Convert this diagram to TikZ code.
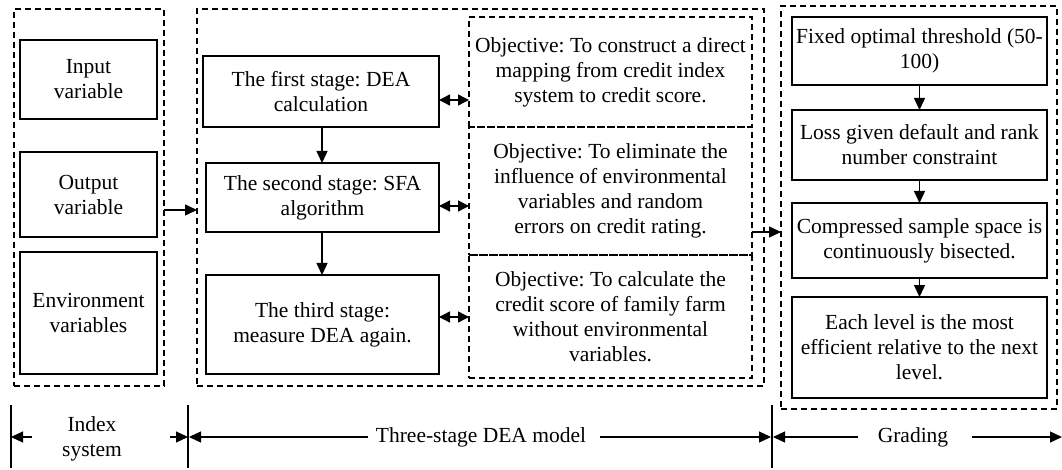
\documentclass[tikz,border=0pt]{standalone}
\usepackage{fontspec}
\setmainfont{Liberation Serif}
\usetikzlibrary{arrows.meta}
\frenchspacing
\begin{document}
\begin{tikzpicture}[x=1pt,y=-1pt,
  every node/.style={inner sep=0pt, outer sep=0pt, align=center, font=\fontsize{21.5}{25}\selectfont},
  solidbox/.style={draw, line width=1.6pt},
  dashbox/.style={draw, line width=1.3pt, dash pattern=on 6pt off 4pt},
  arr/.style={line width=1.4pt, -{Triangle[length=12pt,width=11pt]}},
  darr/.style={line width=1.4pt, {Triangle[length=11pt,width=11pt]}-{Triangle[length=11pt,width=11pt]}},
  dim/.style={line width=1.2pt, -{Triangle[length=12pt,width=11pt]}},
  sep/.style={line width=1.2pt}]
\useasboundingbox (0,0) rectangle (1062,470);
% left group
\node[dashbox, minimum width=150pt, minimum height=377pt] (left) at (89,197.5) {};
\node[solidbox, minimum width=137pt, minimum height=79pt] (in) at (88.5,79.5) {Input\\variable};
\node[solidbox, minimum width=137pt, minimum height=85pt] (out) at (88.5,194.5) {Output\\variable};
\node[solidbox, minimum width=137pt, minimum height=122pt] (env) at (88.5,313) {Environment\\variables};
% middle group
\node[dashbox, minimum width=567pt, minimum height=377pt] (mid) at (480.5,197.5) {};
\node[solidbox, minimum width=236pt, minimum height=71pt] (s1) at (321,91.5) {The first stage: DEA\\calculation};
\node[solidbox, minimum width=233pt, minimum height=69pt] (s2) at (322.5,197.5) {The second stage: SFA\\algorithm};
\node[solidbox, minimum width=233pt, minimum height=99pt] (s3) at (322.5,324.5) {The third stage:\\measure DEA again.};
\node[dashbox, minimum width=283pt, minimum height=110pt] (o1) at (610.5,72) {Objective: To construct a direct\\mapping from credit index\\system to credit score.};
\node[dashbox, minimum width=283pt, minimum height=128pt] (o2) at (610.5,191) {Objective: To eliminate the\\influence of environmental\\variables and random\\errors on credit rating.};
\node[dashbox, minimum width=283pt, minimum height=123pt] (o3) at (610.5,316.5) {Objective: To calculate the\\credit score of family farm\\without environmental\\variables.};
% right group
\node[dashbox, minimum width=276pt, minimum height=403pt] (grade) at (919,207.5) {};
\node[solidbox, minimum width=255pt, minimum height=68pt] (g1) at (919.5,51) {Fixed optimal threshold (50-\\100)};
\node[solidbox, minimum width=255pt, minimum height=70pt] (g2) at (919.5,145) {Loss given default and rank\\number constraint};
\node[solidbox, minimum width=255pt, minimum height=75pt] (g3) at (919.5,240.5) {Compressed sample space is\\continuously bisected.};
\node[solidbox, minimum width=255pt, minimum height=101pt] (g4) at (919.5,347.5) {Each level is the most\\efficient relative to the next\\level.};
% connectors
\draw[arr] (s1.south -| 322,0) -- (s2.north -| 322,0);
\draw[arr] (s2.south -| 322,0) -- (s3.north -| 322,0);
\draw[darr] (s1.east |- 0,100) -- (o1.west |- 0,100);
\draw[darr] (s2.east |- 0,206) -- (o2.west |- 0,206);
\draw[darr] (s3.east |- 0,317) -- (o3.west |- 0,317);
\draw[arr] (left.east |- 0,210) -- (mid.west |- 0,210);
\draw[arr] (o2.east |- 0,232) -- (grade.west |- 0,232);
\draw[arr] (g1) -- (g2);
\draw[arr] (g2) -- (g3);
\draw[arr] (g3) -- (g4);
% bottom dimension lines
\coordinate (v1t) at (11,405); \coordinate (v1b) at (11,468);
\coordinate (v2t) at (188,405); \coordinate (v2b) at (188,468);
\coordinate (v3t) at (772,405); \coordinate (v3b) at (772,468);
\draw[sep] (v1t) -- (v1b);
\draw[sep] (v2t) -- (v2b);
\draw[sep] (v3t) -- (v3b);
\node (lab1) at (92,439) {Index\\system};
\node (lab2) at (481,437) {Three-stage DEA model};
\node (lab3) at (913,437) {Grading};
\coordinate (a1s) at (32,437); \coordinate (a1e) at (11,437);
\coordinate (a2s) at (170,437); \coordinate (a2e) at (188,437);
\coordinate (a3s) at (368,437); \coordinate (a3e) at (189,437);
\coordinate (a4s) at (600,437); \coordinate (a4e) at (771,437);
\coordinate (a5s) at (858,437); \coordinate (a5e) at (773,437);
\coordinate (a6s) at (972,437); \coordinate (a6e) at (1062,437);
\draw[dim] (a1s) -- (a1e);
\draw[dim] (a2s) -- (a2e);
\draw[dim] (a3s) -- (a3e);
\draw[dim] (a4s) -- (a4e);
\draw[dim] (a5s) -- (a5e);
\draw[dim] (a6s) -- (a6e);
\end{tikzpicture}
\end{document}
